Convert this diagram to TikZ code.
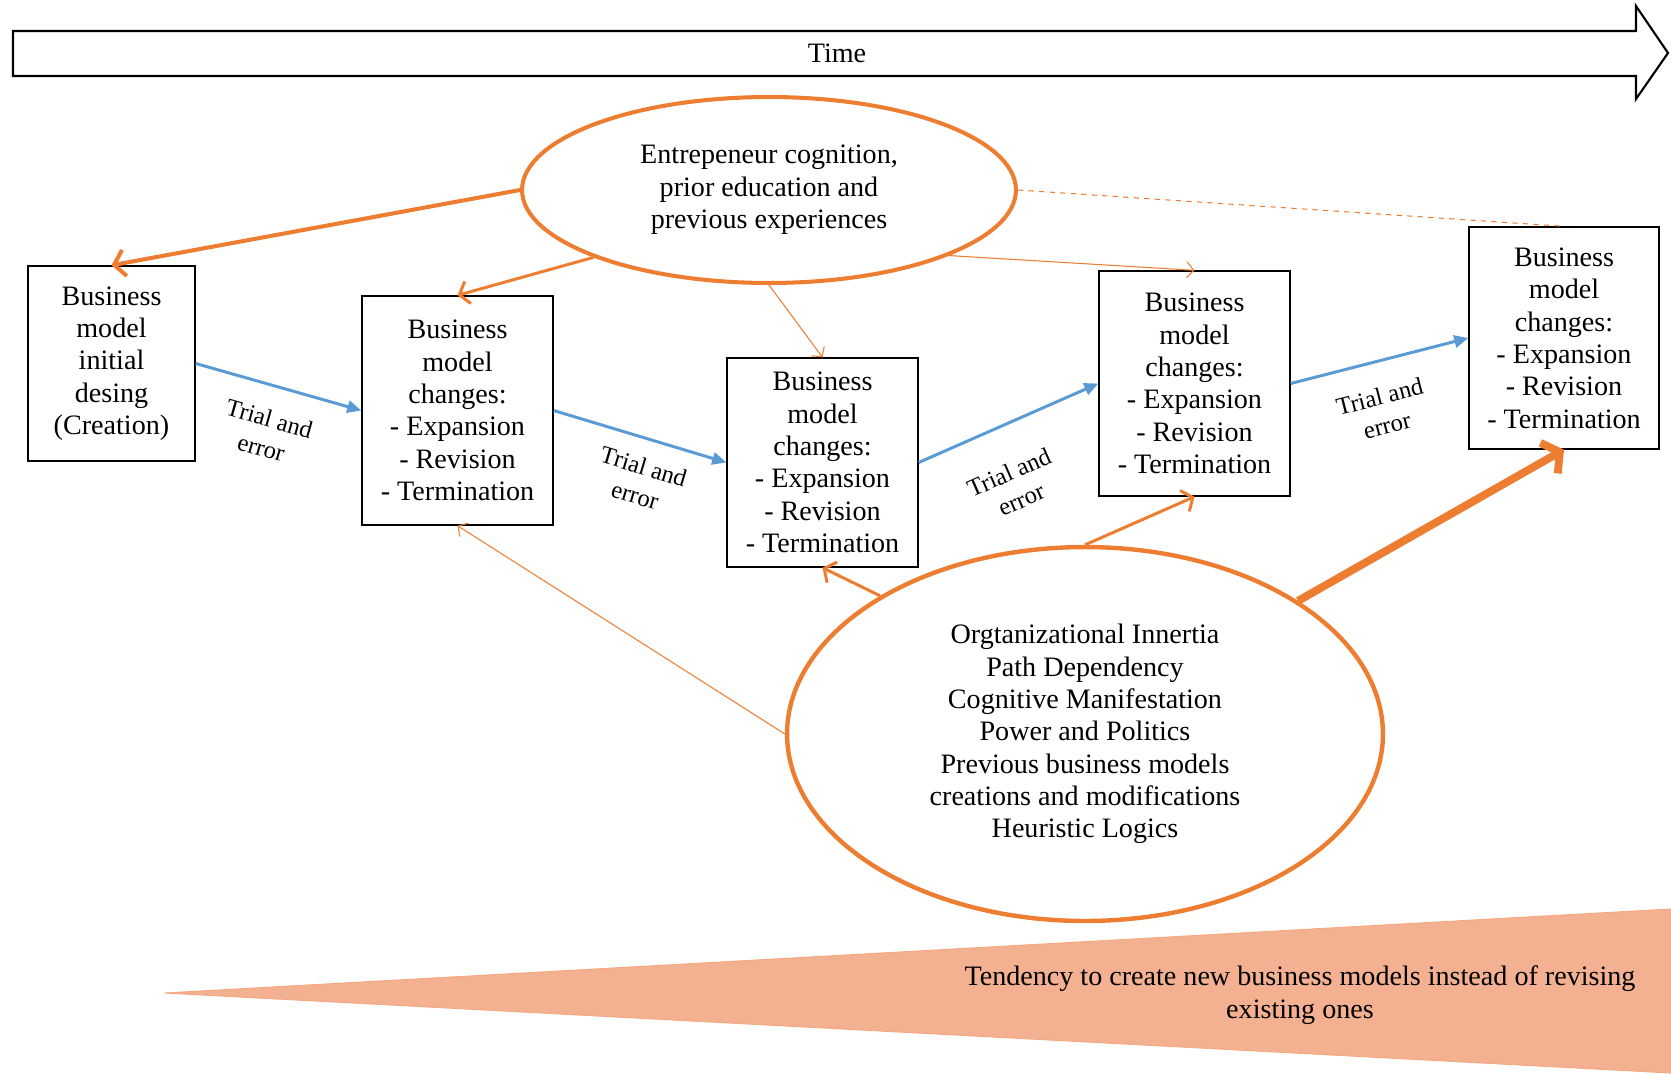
\documentclass[tikz,border=0pt]{standalone}
\usepackage{fontspec}
\setmainfont{Liberation Serif}
\usetikzlibrary{shapes.geometric,arrows.meta}

\definecolor{bmorange}{RGB}{237,125,49}
\definecolor{bmblue}{RGB}{91,155,213}
\definecolor{bmsalmon}{RGB}{244,177,146}

\tikzset{
  bmbox/.style={draw, line width=0.8pt, align=center, inner sep=0pt, font=\fontsize{16}{18.4}\selectfont},
  factor/.style={ellipse, draw=bmorange, align=center, inner sep=0pt, font=\fontsize{16}{18.4}\selectfont},
  trial/.style={bmblue, line width=1.7pt, -{Triangle[length=8pt,width=7pt]}},
  trialtext/.style={font=\fontsize{14}{17}\selectfont, align=center, text=black, inner sep=5pt},
  thinpush/.style={bmorange, line width=0.6pt, -{Straight Barb[length=4pt,width=9pt]}},
  push/.style={bmorange, line width=1.7pt, -{Straight Barb[length=5pt,width=13pt]}},
}

\begin{document}
\begin{tikzpicture}[x=0.02cm, y=-0.02cm]
  \useasboundingbox (0,0) rectangle (1671,1073);

  % time axis
  \draw[line width=1.2pt] (13,31) -- (1636,31) -- (1636,6) -- (1668,53) -- (1636,99) -- (1636,76) -- (13,76) -- cycle;
  \node (time) at (837,53) [font=\fontsize{16}{18.4}\selectfont] {Time};

  % tendency wedge
  \filldraw[fill=bmsalmon, draw=bmsalmon!85!bmorange, line width=0.6pt] (165,993) -- (1671,909) -- (1671,1073) -- cycle;
  \node (tend) at (1300,995) [align=center, font=\fontsize{16}{18.4}\selectfont] {Tendency to create new business models instead of revising\\existing ones};

  % influences
  \node (ent) at (769,190) [factor, line width=2.3pt, minimum width=9.88cm, minimum height=3.72cm]
    {Entrepeneur cognition,\\prior education and\\previous experiences};
  \node (inert) at (1085,734) [factor, line width=2.5pt, minimum width=11.92cm, minimum height=7.48cm]
    {Orgtanizational Innertia\\Path Dependency\\Cognitive Manifestation\\Power and Politics\\Previous business models\\creations and modifications\\Heuristic Logics};

  % business model stages
  \node (bm1) at (111.5,363.5) [bmbox, minimum width=3.34cm, minimum height=3.9cm]
    {Business\\model\\initial\\desing\\(Creation)};
  \node (bm2) at (457.5,410.5) [bmbox, minimum width=3.82cm, minimum height=4.58cm]
    {Business\\model\\changes:\\- Expansion\\- Revision\\- Termination};
  \node (bm3) at (822.5,462.5) [bmbox, minimum width=3.82cm, minimum height=4.18cm]
    {Business\\model\\changes:\\- Expansion\\- Revision\\- Termination};
  \node (bm4) at (1194.5,383.5) [bmbox, minimum width=3.82cm, minimum height=4.5cm]
    {Business\\model\\changes:\\- Expansion\\- Revision\\- Termination};
  \node (bm5) at (1564,338) [bmbox, minimum width=3.8cm, minimum height=4.44cm]
    {Business\\model\\changes:\\- Expansion\\- Revision\\- Termination};

  % trial and error
  \draw[trial] (bm1.east) -- (bm2.west) node[midway, below, sloped, trialtext, yshift=-8pt] {Trial and\\error};
  \draw[trial] (bm2.east) -- (bm3.west) node[midway, below, sloped, trialtext, xshift=7pt, yshift=-5pt] {Trial and\\error};
  \draw[trial] (bm3.east) -- (bm4.west) node[midway, below, sloped, trialtext, xshift=-11pt, yshift=-15pt] {Trial and\\error};
  \draw[trial] (bm4.east) -- (bm5.west) node[midway, below, sloped, trialtext, xshift=-5pt, yshift=-9pt] {Trial and\\error};

  % entrepreneur influence
  \draw[push, line width=2.3pt, -{Straight Barb[length=6pt,width=15pt]}] (ent.180) -- (bm1.north);
  \draw[push] (ent.201) -- (bm2.north);
  \draw[thinpush] (ent.south) -- (bm3.north);
  \draw[thinpush] (ent.340) -- (bm4.north);
  \draw[bmorange, line width=0.6pt, dashed] (ent.east) -- (bm5.north);

  % inertia influence
  \draw[thinpush] (inert.west) -- (bm2.south);
  \draw[push] (inert.146.6) -- (bm3.south);
  \draw[push] (inert.north) -- (bm4.south);
  \draw[push, line width=4.5pt, -{Straight Barb[length=7pt,width=20pt]}] (inert.32) -- (bm5.south);

\end{tikzpicture}
\end{document}
